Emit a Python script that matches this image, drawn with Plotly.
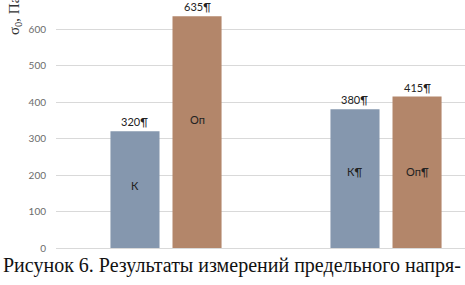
import plotly.graph_objects as go

groups = [0, 1]
series_names = ["К", "Оп"]
k_values = [320, 380]
op_values = [635, 415]
value_labels_k = ["320¶", "380¶"]
value_labels_op = ["635¶", "415¶"]
inner_labels_k = ["К", "К¶"]
inner_labels_op = ["Оп", "Оп¶"]
inner_pos_k = [172, 209]
inner_pos_op = [352, 209]
y_ticks = [0, 100, 200, 300, 400, 500, 600]

offset = 0.141
bw = 0.223
col_k = "#8597AE"
col_op = "#B3866A"
lab_font = dict(family="Lato", size=11, color="#222222")

fig = go.Figure()
fig.add_trace(go.Bar(x=[g - offset for g in groups], y=k_values, width=bw,
                     marker=dict(color=col_k, line=dict(width=0)), name=series_names[0]))
fig.add_trace(go.Bar(x=[g + offset for g in groups], y=op_values, width=bw,
                     marker=dict(color=col_op, line=dict(width=0)), name=series_names[1]))

ann = []
for i, g in enumerate(groups):
    ann.append(dict(x=g - offset, y=k_values[i], text=value_labels_k[i], showarrow=False,
                    yanchor="bottom", yshift=1, font=lab_font))
    ann.append(dict(x=g + offset, y=op_values[i], text=value_labels_op[i], showarrow=False,
                    yanchor="bottom", yshift=1, font=lab_font))
    ann.append(dict(x=g - offset, y=inner_pos_k[i], text=inner_labels_k[i], showarrow=False,
                    yanchor="middle", font=lab_font))
    ann.append(dict(x=g + offset, y=inner_pos_op[i], text=inner_labels_op[i], showarrow=False,
                    yanchor="middle", font=lab_font))

ann.append(dict(xref="paper", yref="paper", x=-0.099, y=(248 - 37) / 248,
                text="σ<sub>0</sub>, Па",
                textangle=-90, showarrow=False, xanchor="center", yanchor="bottom",
                font=dict(family="Liberation Serif", size=15, color="#333333")))
ann.append(dict(xref="paper", yref="paper", x=0.5, y=-0.072, xshift=-29,
                text="Рисунок 6. Результаты измерений предельного напря-",
                showarrow=False, xanchor="center", yanchor="middle",
                font=dict(family="Liberation Serif", size=20, color="#111111")))

fig.update_layout(
    width=465, height=285,
    margin=dict(l=56, r=0, t=0, b=37),
    paper_bgcolor="white", plot_bgcolor="white",
    showlegend=False,
    annotations=ann,
    xaxis=dict(range=[-0.5, 1.359], showticklabels=False, showgrid=False, zeroline=False,
               showline=False, ticks=""),
    yaxis=dict(range=[0, 679.5], tickvals=y_ticks, showgrid=True, gridcolor="#D9D9D9",
               gridwidth=1, zeroline=True, zerolinecolor="#D9D9D9", zerolinewidth=1,
               tickfont=dict(family="Lato", size=10, color="#6b6b6b"),
               ticklabelstandoff=9, showline=False),
)

fig.write_html("out.html", config={"displayModeBar": False},
               post_script="document.body.style.margin='0';")
